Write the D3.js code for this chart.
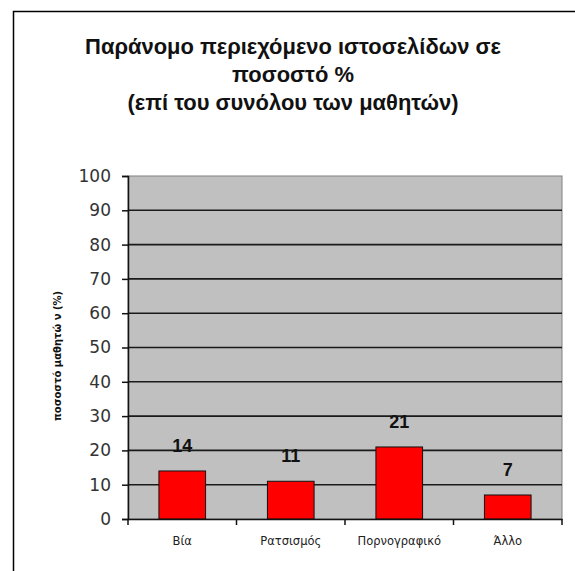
<!DOCTYPE html>
<html><head><meta charset="utf-8">
<script src="https://cdn.jsdelivr.net/npm/d3@7"></script>
<style>body{margin:0;background:#fff}svg{display:block}</style>
</head><body>
<script>
const categories = ["Βία", "Ρατσισμός", "Πορνογραφικό", "Άλλο"];
const values = [14, 11, 21, 7];
const yTicks = [0, 10, 20, 30, 40, 50, 60, 70, 80, 90, 100];
const titleLines = ["Παράνομο περιεχόμενο ιστοσελίδων σε", "ποσοστό %", "(επί του συνόλου των μαθητών)"];
const yAxisTitle = "ποσοστό μαθητώ ν (%)";

(function () {
const W = 575, H = 571;
const svg = d3.select("body").append("svg").attr("width", W).attr("height", H);
const font = "'Liberation Sans', Arial, sans-serif";
const dv = "'DejaVu Sans', Verdana, sans-serif";

// chart area border
svg.append("rect").attr("x", 13.5).attr("y", 11.5).attr("width", 700).attr("height", 700)
  .attr("fill", "#fff").attr("stroke", "#000").attr("stroke-width", 1.5);

const pL = 128, pR = 562, pT = 176, pB = 519;
const x = d3.scaleBand().domain(categories).range([pL, pR]).paddingInner(0.57).paddingOuter(0.285);
const xb = d3.scaleBand().domain(categories).range([pL, pR]);
const y = d3.scaleLinear().domain([0, 100]).range([pB, pT]);

svg.append("rect").attr("x", pL).attr("y", pT).attr("width", pR - pL).attr("height", pB - pT)
  .attr("fill", "#c0c0c0").attr("stroke", "#808080").attr("stroke-width", 1);

// gridlines
svg.append("g").selectAll("line").data(yTicks.filter(d => d > 0 && d < 100)).join("line")
  .attr("x1", pL).attr("x2", pR).attr("y1", d => y(d)).attr("y2", d => y(d))
  .attr("stroke", "#1a1a1a").attr("stroke-width", 1.6);

// bars
svg.append("g").selectAll("rect").data(values).join("rect")
  .attr("x", (d, i) => x(categories[i])).attr("width", x.bandwidth())
  .attr("y", d => y(d)).attr("height", d => y(0) - y(d))
  .attr("fill", "#ff0000").attr("stroke", "#111").attr("stroke-width", 1);

// value labels
svg.append("g").selectAll("text").data(values).join("text")
  .attr("x", (d, i) => x(categories[i]) + x.bandwidth() / 2)
  .attr("y", d => y(d) - 19)
  .attr("text-anchor", "middle").attr("font-family", font).attr("font-weight", "bold")
  .attr("font-size", 18).attr("fill", "#111").text(d => d);

// y axis
const yAxis = svg.append("g").attr("transform", `translate(${pL},0)`)
  .call(d3.axisLeft(y).tickValues(yTicks).tickSize(6).tickPadding(11));
yAxis.select(".domain").attr("stroke", "#111").attr("stroke-width", 1.5);
yAxis.selectAll(".tick line").attr("stroke", "#111").attr("stroke-width", 1.5);
yAxis.selectAll("text").attr("font-family", dv).attr("font-size", 17).attr("fill", "#333");

// x axis
const xAxis = svg.append("g").attr("transform", `translate(0,${pB})`)
  .call(d3.axisBottom(xb).tickSize(0).tickPadding(18));
xAxis.select(".domain").attr("stroke", "#111").attr("stroke-width", 1.5);
xAxis.selectAll("text").attr("font-family", dv).attr("font-size", 11.5).attr("fill", "#222");
svg.append("g").selectAll("line").data(categories.concat(["end"])).join("line")
  .attr("x1", (d, i) => pL + i * xb.step()).attr("x2", (d, i) => pL + i * xb.step())
  .attr("y1", pB).attr("y2", pB + 6).attr("stroke", "#111").attr("stroke-width", 1.5);

// y axis title
svg.append("text").attr("transform", `translate(61,356) rotate(-90)`)
  .attr("text-anchor", "middle").attr("font-family", dv).attr("font-weight", "bold")
  .attr("font-size", 10).attr("fill", "#111").text(yAxisTitle);

// title
const tt = svg.append("g").selectAll("text").data(titleLines).join("text")
  .attr("x", 293).attr("y", (d, i) => 54 + i * 28)
  .attr("text-anchor", "middle").attr("font-family", font).attr("font-weight", "bold")
  .attr("font-size", 20).attr("fill", "#111").text(d => d);
const len = tt.nodes()[0].getComputedTextLength();
const fs = 20 * 416 / len;
tt.attr("font-size", fs.toFixed(2));
})();
</script>
</body></html>
